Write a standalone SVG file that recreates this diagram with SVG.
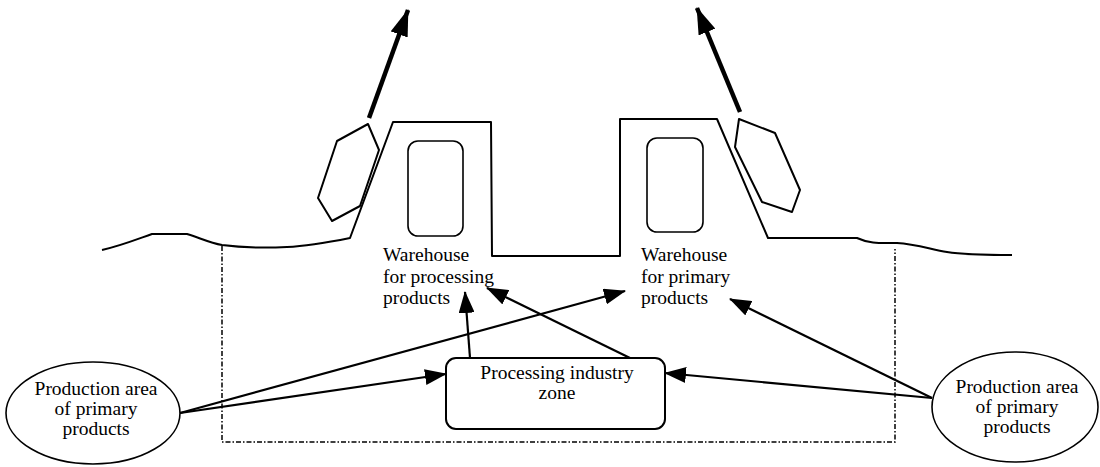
<svg xmlns="http://www.w3.org/2000/svg" width="1100" height="467" viewBox="0 0 1100 467">
<style>
.ln{fill:none;stroke:#000;stroke-width:2;stroke-linejoin:round}
.th{fill:none;stroke:#000;stroke-width:1.6}
.dash{fill:none;stroke:#000;stroke-width:1.5;stroke-dasharray:5 2 1.5 2}
.cn{fill:none;stroke:#000;stroke-width:2.2}
.big{fill:none;stroke:#000;stroke-width:4.5}
text{font-family:"Liberation Serif","Times New Roman",serif;font-size:19.5px;fill:#000}
.c{text-anchor:middle}
</style>
<defs>
<marker id="ah" markerUnits="userSpaceOnUse" markerWidth="22" markerHeight="16" refX="21" refY="8" orient="auto">
<path d="M0,0 L22,8 L0,16 z" fill="#000"/>
</marker>
<marker id="ahb" markerUnits="userSpaceOnUse" markerWidth="27" markerHeight="18" refX="26" refY="9" orient="auto">
<path d="M0,0 L27,9 L0,18 z" fill="#000"/>
</marker>
</defs>
<rect width="1100" height="467" fill="#fff"/>

<g id="shore">
<path class="ln" d="M102,250 C120,246 135,240 152,234 L187,234 C200,238 210,243 222,245 C245,248 265,248 287,247 C310,246 330,242 350,238 L393,122 L491,122 L492,256 L620,256 L620,119 L717,119 L768,238 L857,238 C870,244 880,243 897,243 C915,244 930,249 947,252 C965,255 990,255 1012,255"/>
</g>

<g id="zone-boundary">
<path class="dash" d="M222,246 V442 H895 V249"/>
</g>

<g id="boat-left">
<polygon class="ln" points="368,124 379,150 360,206 332,221 318,198 337,141"/>
</g>
<g id="boat-right">
<polygon class="ln" points="739,119 775,133 800,190 792,212 762,202 735,147"/>
</g>

<g id="warehouse-processing">
<rect class="th" x="408" y="141" width="55" height="95" rx="10"/>
<text x="383" y="261">Warehouse</text>
<text x="383" y="283">for processing</text>
<text x="383" y="304">products</text>
</g>

<g id="warehouse-primary">
<rect class="th" x="647" y="138" width="56" height="94" rx="10"/>
<text x="641" y="261">Warehouse</text>
<text x="641" y="283">for primary</text>
<text x="641" y="304">products</text>
</g>

<g id="processing-zone">
<rect class="ln" x="446" y="358" width="219" height="71" rx="10"/>
<text class="c" x="557" y="379">Processing industry</text>
<text class="c" x="557" y="399">zone</text>
</g>

<g id="production-left">
<ellipse class="th" cx="93" cy="413" rx="87" ry="51"/>
<text class="c" x="96" y="395">Production area</text>
<text class="c" x="96" y="415">of primary</text>
<text class="c" x="96" y="435">products</text>
</g>

<g id="production-right">
<ellipse class="th" cx="1015" cy="407" rx="83" ry="55"/>
<text class="c" x="1017" y="393">Production area</text>
<text class="c" x="1017" y="413">of primary</text>
<text class="c" x="1017" y="433">products</text>
</g>

<g id="connectors">
<line class="big" x1="369" y1="118" x2="408" y2="10" marker-end="url(#ahb)"/>
<line class="big" x1="740" y1="112" x2="697" y2="8" marker-end="url(#ahb)"/>
<line class="cn" x1="180" y1="413" x2="446" y2="374" marker-end="url(#ah)"/>
<line class="cn" x1="180" y1="413" x2="625" y2="291" marker-end="url(#ah)"/>
<line class="cn" x1="470" y1="358" x2="465" y2="292" marker-end="url(#ah)"/>
<line class="cn" x1="630" y1="358" x2="487" y2="288" marker-end="url(#ah)"/>
<line class="cn" x1="932" y1="398" x2="665" y2="373" marker-end="url(#ah)"/>
<line class="cn" x1="932" y1="398" x2="730" y2="299" marker-end="url(#ah)"/>
</g>
</svg>
